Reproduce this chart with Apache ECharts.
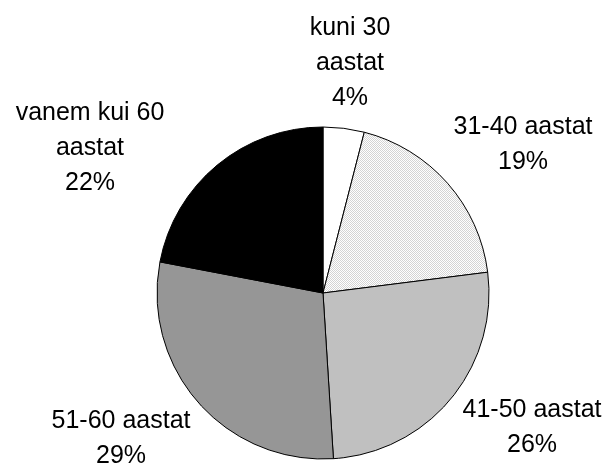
<!DOCTYPE html>
<html>
<head>
<meta charset="utf-8">
<script src="https://cdn.jsdelivr.net/npm/echarts@6/dist/echarts.min.js"></script>
<style>
  html, body { margin: 0; padding: 0; background: #fff; }
  #chart { width: 605px; height: 465px; }
</style>
</head>
<body>
<div id="chart"></div>
<script>
// age groups and their shares (%)
var categories = ["kuni 30\naastat", "31-40 aastat", "41-50 aastat", "51-60 aastat", "vanem kui 60\naastat"];
var shares = [4, 19, 26, 29, 22];

// fine dotted fill for the 31-40 slice
var dots = document.createElement("canvas");
dots.width = 2;
dots.height = 2;
var ctx = dots.getContext("2d");
ctx.fillStyle = "#ffffff";
ctx.fillRect(0, 0, 2, 2);
ctx.fillStyle = "#d4d4d4";
ctx.fillRect(0, 0, 1, 1);
ctx.fillRect(1, 1, 1, 1);

var fills = ["#ffffff", { image: dots, repeat: "repeat" }, "#c0c0c0", "#969696", "#000000"];
// label centres, Excel style
var labelPos = [[350, 63], [523, 145], [532, 428], [121, 439], [90, 148]];

var myChart = echarts.init(document.getElementById("chart"));
var option = {
  animation: false,
  series: [
    {
      type: "pie",
      center: [323, 293],
      radius: 166,
      startAngle: 90,
      clockwise: true,
      avoidLabelOverlap: false,
      data: categories.map(function (c, i) {
        return { name: c, value: shares[i], itemStyle: { color: fills[i] } };
      }),
      itemStyle: { borderColor: "#000", borderWidth: 1 },
      label: {
        show: true,
        position: "outside",
        formatter: function (p) { return p.name + "\n" + p.value + "%"; },
        color: "#000",
        fontFamily: "Liberation Sans, Arial, sans-serif",
        fontSize: 25,
        lineHeight: 35,
        align: "center"
      },
      labelLine: { show: false },
      labelLayout: function (params) {
        var pos = labelPos[params.dataIndex];
        return { x: pos[0], y: pos[1], align: "center", verticalAlign: "middle" };
      },
      emphasis: { disabled: true }
    }
  ]
};
myChart.setOption(option);
</script>
</body>
</html>
